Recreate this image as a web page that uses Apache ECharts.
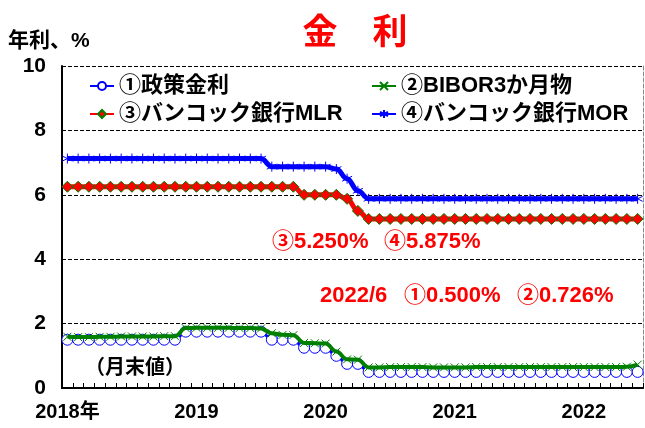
<!DOCTYPE html>
<html>
<head>
<meta charset="utf-8">
<script src="https://cdn.jsdelivr.net/npm/echarts@6/dist/echarts.min.js"></script>
<style>
html,body{margin:0;padding:0;background:#fff;}
#c{width:645px;height:428px;}
</style>
</head>
<body>
<div id="c"></div>
<script>
// Months Jan 2018 - Jun 2022
var categories = [];
for (var y = 2018; y <= 2022; y++) {
  for (var m = 1; m <= 12; m++) {
    if (y === 2022 && m > 6) break;
    categories.push(y + '/' + m);
  }
}
var yearLabels = {'2018/1': '2018年', '2019/1': '2019', '2020/1': '2020', '2021/1': '2021', '2022/1': '2022'};
var yTicks = [0, 2, 4, 6, 8, 10];

var seriesNames = ['①政策金利', '②BIBOR3か月物', '③バンコック銀行MLR', '④バンコック銀行MOR'];

var policyRate = [
  1.5,1.5,1.5,1.5,1.5,1.5,1.5,1.5,1.5,1.5,1.5,1.75,
  1.75,1.75,1.75,1.75,1.75,1.75,1.75,1.5,1.5,1.5,1.25,1.25,
  1.25,1.0,0.75,0.75,0.5,0.5,0.5,0.5,0.5,0.5,0.5,0.5,
  0.5,0.5,0.5,0.5,0.5,0.5,0.5,0.5,0.5,0.5,0.5,0.5,
  0.5,0.5,0.5,0.5,0.5,0.5
];
var bibor3m = [
  1.59,1.58,1.58,1.59,1.59,1.60,1.60,1.60,1.60,1.61,1.61,1.86,
  1.87,1.87,1.87,1.87,1.86,1.86,1.85,1.70,1.65,1.64,1.40,1.39,
  1.38,1.13,0.89,0.88,0.64,0.64,0.65,0.65,0.65,0.65,0.64,0.64,
  0.64,0.64,0.65,0.65,0.65,0.65,0.65,0.65,0.65,0.65,0.65,0.65,
  0.65,0.65,0.65,0.65,0.66,0.726
];
var mlr = [
  6.25,6.25,6.25,6.25,6.25,6.25,6.25,6.25,6.25,6.25,6.25,6.25,
  6.25,6.25,6.25,6.25,6.25,6.25,6.25,6.25,6.25,6.25,6.0,6.0,
  6.0,6.0,5.875,5.5,5.25,5.25,5.25,5.25,5.25,5.25,5.25,5.25,
  5.25,5.25,5.25,5.25,5.25,5.25,5.25,5.25,5.25,5.25,5.25,5.25,
  5.25,5.25,5.25,5.25,5.25,5.25
];
var mor = [
  7.125,7.125,7.125,7.125,7.125,7.125,7.125,7.125,7.125,7.125,7.125,7.125,
  7.125,7.125,7.125,7.125,7.125,7.125,7.125,6.875,6.875,6.875,6.875,6.875,
  6.875,6.8,6.5,6.125,5.875,5.875,5.875,5.875,5.875,5.875,5.875,5.875,
  5.875,5.875,5.875,5.875,5.875,5.875,5.875,5.875,5.875,5.875,5.875,5.875,
  5.875,5.875,5.875,5.875,5.875,5.875
];

var FONT = "'Liberation Sans', 'Noto Sans CJK JP', sans-serif";
var X_SYMBOL = 'path://M0,0L10,10M10,0L0,10';
var AST_SYMBOL = 'path://M5,0L5,10M0,2.5L10,7.5M0,7.5L10,2.5';

var chart = echarts.init(document.getElementById('c'), null, {renderer: 'canvas'});
var legendText = {fontSize: 22, fontWeight: 'bold', color: '#000', fontFamily: FONT};
var option = {
  backgroundColor: '#fff',
  animation: false,
  textStyle: {fontFamily: FONT},
  grid: {left: 62, right: 2, top: 66, bottom: 40, containLabel: false},
  title: {
    text: '金　利', left: 350, top: 12, textAlign: 'center',
    textStyle: {color: '#ff0000', fontSize: 35, fontWeight: 'bold', fontFamily: FONT}
  },
  legend: [
    {
      data: [seriesNames[0], seriesNames[2]], orient: 'vertical', left: 84, top: 70,
      itemWidth: 24, itemHeight: 10, itemGap: 6, textStyle: legendText
    },
    {
      data: [seriesNames[1], seriesNames[3]], orient: 'vertical', left: 366, top: 70,
      itemWidth: 24, itemHeight: 10, itemGap: 6, textStyle: legendText
    }
  ],
  xAxis: [
    {
      type: 'category', data: categories, boundaryGap: true,
      axisLine: {lineStyle: {color: '#000', width: 2}},
      axisTick: {show: true, inside: true, length: 5, interval: 0, lineStyle: {color: '#000', width: 1}},
      axisLabel: {
        interval: function (i) { return i % 12 === 0; },
        formatter: function (v) { return yearLabels[v] || ''; },
        color: '#000', fontSize: 20, fontWeight: 'bold', margin: 14, fontFamily: FONT
      },
      splitLine: {show: false}
    },
    {
      type: 'category', data: categories, position: 'top', boundaryGap: true,
      axisLine: {lineStyle: {color: '#000', width: 1}},
      axisTick: {show: false}, axisLabel: {show: false}, splitLine: {show: false}
    }
  ],
  yAxis: [
    {
      type: 'value', min: yTicks[0], max: yTicks[yTicks.length - 1], interval: 2,
      axisLine: {show: true, lineStyle: {color: '#000', width: 2}},
      axisTick: {show: false},
      axisLabel: {color: '#000', fontSize: 21, fontWeight: 'bold', margin: 16, fontFamily: FONT},
      splitLine: {show: true, lineStyle: {color: '#000', type: 'dashed', width: 1}}
    },
    {
      type: 'value', min: 0, max: 10, interval: 2, position: 'right',
      axisLine: {show: true, lineStyle: {color: '#888', type: 'dashed', width: 1}},
      axisTick: {show: false}, axisLabel: {show: false}, splitLine: {show: false}
    }
  ],
  series: [
    {
      name: seriesNames[0], type: 'line', data: policyRate, smooth: 0.4, smoothMonotone: 'x',
      symbol: 'circle', symbolSize: 11, showAllSymbol: true,
      lineStyle: {color: '#0000ff', width: 3},
      itemStyle: {color: '#ffffff', borderColor: '#0000ff', borderWidth: 1},
      z: 2
    },
    {
      name: seriesNames[1], type: 'line', data: bibor3m, smooth: 0.4, smoothMonotone: 'x',
      symbol: X_SYMBOL, symbolSize: 8, showAllSymbol: true,
      lineStyle: {color: '#008000', width: 4},
      itemStyle: {color: '#008000', borderColor: '#008000', borderWidth: 1},
      z: 3
    },
    {
      name: seriesNames[2], type: 'line', data: mlr, smooth: 0.4, smoothMonotone: 'x',
      symbol: 'diamond', symbolSize: 11, showAllSymbol: true,
      lineStyle: {color: '#ff0000', width: 5},
      itemStyle: {color: '#ff0000', borderColor: '#008000', borderWidth: 1},
      z: 3
    },
    {
      name: seriesNames[3], type: 'line', data: mor, smooth: 0.4, smoothMonotone: 'x',
      symbol: AST_SYMBOL, symbolSize: 10, showAllSymbol: true,
      lineStyle: {color: '#0000ff', width: 5},
      itemStyle: {color: '#0000ff', borderColor: '#0000ff', borderWidth: 1},
      z: 3
    }
  ],
  graphic: [
    {type: 'text', left: 8, top: 31, style: {text: '年利、%', fill: '#000', font: 'bold 21px ' + FONT}},
    {type: 'text', left: 272, top: 231, style: {text: '③5.250%', fill: '#ff0000', font: 'bold 22px ' + FONT}},
    {type: 'text', left: 384, top: 231, style: {text: '④5.875%', fill: '#ff0000', font: 'bold 22px ' + FONT}},
    {type: 'text', left: 320, top: 285, style: {text: '2022/6', fill: '#ff0000', font: 'bold 22px ' + FONT}},
    {type: 'text', left: 404, top: 285, style: {text: '①0.500%', fill: '#ff0000', font: 'bold 22px ' + FONT}},
    {type: 'text', left: 517, top: 285, style: {text: '②0.726%', fill: '#ff0000', font: 'bold 22px ' + FONT}},
    {type: 'text', left: 85, top: 358, style: {text: '（月末値）', fill: '#000', font: 'bold 20px ' + FONT}}
  ]
};
chart.setOption(option);
</script>
</body>
</html>
